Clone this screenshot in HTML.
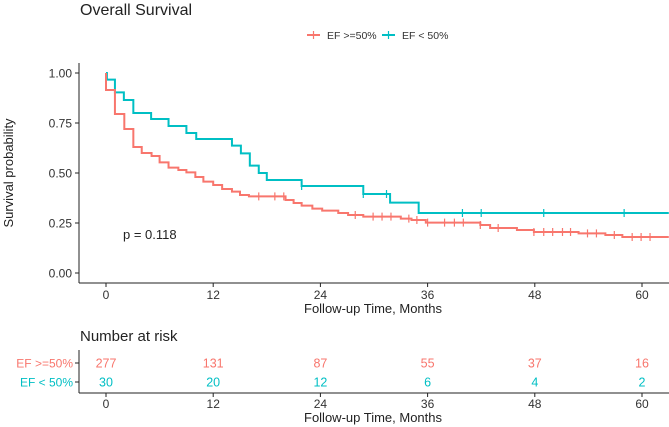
<!DOCTYPE html>
<html><head><meta charset="utf-8"><style>
body{margin:0;background:#fff;}
svg{display:block;font-family:"Liberation Sans",sans-serif;}
</style></head><body>
<svg id="c" width="669" height="427"></svg>
<script>
const groups=["EF >=50%","EF < 50%"];
const redTimes=[0,1.0,2.05,3.06,4.0,5.1,6.0,7.0,8.1,9.0,10.0,10.9,12.0,13.0,14.1,15.0,16.0,20.1,21.0,21.9,23.1,24.2,26,27.1,28.8,33,34.2,35.8,41.9,43,46,47.9,52.9,55.9,57.8];
const redSurv=[0.915,0.795,0.72,0.63,0.60,0.585,0.553,0.527,0.515,0.503,0.48,0.457,0.44,0.42,0.407,0.39,0.383,0.365,0.35,0.337,0.322,0.312,0.30,0.29,0.282,0.272,0.265,0.252,0.24,0.225,0.215,0.205,0.198,0.19,0.18];
const redCensor=[17.1,18.9,19.9,27.9,29.9,30.9,31.9,33.9,34.8,36.0,37.9,39.0,40.0,41.9,43.9,47.9,49.0,50.0,51.1,52.0,53.9,54.9,56.9,58.9,59.9,60.9];
const tealTimes=[0.1,1.0,2.0,3.06,5.05,7.0,9.0,10.1,14.1,15.1,16.1,17.1,18.0,21.9,28.8,31.8,35.0];
const tealSurv=[0.967,0.903,0.865,0.80,0.77,0.735,0.70,0.67,0.637,0.598,0.537,0.50,0.465,0.435,0.395,0.352,0.30];
const tealCensor=[21.9,28.8,31.4,39.9,42.0,49.0,58.0];
const xTicks=[0,12,24,36,48,60];
const yTicks=[0,0.25,0.5,0.75,1.0];
const riskRed=[277,131,87,55,37,16];
const riskTeal=[30,20,12,6,4,2];
const pText="p = 0.118";
const RED="#F8766D",TEAL="#00BFC4";
const NS="http://www.w3.org/2000/svg";
const svg=document.getElementById('c');
const X=t=>106+t*(642-106)/60;
const Y=v=>273-v*200;
const tMax=63;
function el(tag,attrs,parent){const e=document.createElementNS(NS,tag);for(const k in attrs)e.setAttribute(k,attrs[k]);(parent||svg).appendChild(e);return e;}
function txt(s,attrs){const e=el('text',attrs);e.textContent=s;return e;}
let t;
t=txt("Overall Survival",{x:80,y:15,'font-size':16,fill:'#222'});


const lg=el('g',{});


[[groups[0],RED,307],[groups[1],TEAL,382]].forEach(([n,c,x])=>{
 const g=el('g',{},lg);
 
 
 el('line',{x1:x,y1:35,x2:x+13,y2:35,stroke:c,'stroke-width':2},g);
 el('line',{x1:x+6.5,y1:31,x2:x+6.5,y2:39,stroke:c,'stroke-width':1.2},g);
 const tt=el('text',{x:x+20,y:39,'font-size':10.5,fill:'#333'},g);tt.textContent=n;
});
let a=el('line',{x1:79,y1:63,x2:79,y2:283,stroke:'#222','stroke-width':1});


a=el('line',{x1:79,y1:283,x2:669,y2:283,stroke:'#222','stroke-width':1});


yTicks.forEach(v=>{
 el('line',{x1:75,y1:Y(v),x2:79,y2:Y(v),stroke:'#222'});
 const e=txt(v.toFixed(2),{x:72,y:Y(v)+4.5,'font-size':12,'text-anchor':'end',fill:'#333'});
 
 
});
xTicks.forEach(v=>{
 el('line',{x1:X(v),y1:283,x2:X(v),y2:287,stroke:'#222'});
 const e=txt(String(v),{x:X(v),y:299,'font-size':12,'text-anchor':'middle',fill:'#333'});
 
 
});
t=txt("Follow-up Time, Months",{x:373,y:313,'font-size':13,'text-anchor':'middle',fill:'#222'});


t=txt("Survival probability",{x:0,y:0,'font-size':13,'text-anchor':'middle',fill:'#222',transform:'translate(13,173) rotate(-90)'});


t=txt(pText,{x:123,y:239,'font-size':13,fill:'#222'});


function survAt(times,surv,tt){let s=1;for(let i=0;i<times.length;i++){if(times[i]<=tt)s=surv[i];}return s;}
function curve(times,surv,cens,color,name){
 let d='M'+X(0)+','+Y(1);
 for(let i=0;i<times.length;i++){d+=' H'+X(times[i])+' V'+Y(surv[i]);}
 d+=' H'+X(tMax);
 const p=el('path',{d:d,fill:'none',stroke:color,'stroke-width':2});
 
 
 cens.forEach(c=>{
  const y=Y(survAt(times,surv,c));
  const m=el('line',{x1:X(c),y1:y-4,x2:X(c),y2:y+4,stroke:color,'stroke-width':1.2});
  
  
 });
}
curve(tealTimes,tealSurv,tealCensor,TEAL,'curve-ef-below-50');
curve(redTimes,redSurv,redCensor,RED,'curve-ef-50-plus');
t=txt("Number at risk",{x:80,y:341,'font-size':15,fill:'#222'});


el('line',{x1:79,y1:350,x2:79,y2:393,stroke:'#222'});
el('line',{x1:79,y1:393,x2:669,y2:393,stroke:'#222'});
[[groups[0],RED,363,riskRed],[groups[1],TEAL,382,riskTeal]].forEach(([n,c,y,vals])=>{
 el('line',{x1:75,y1:y,x2:79,y2:y,stroke:'#222'});
 const l=txt(n,{x:73,y:y+4.5,'font-size':12,'text-anchor':'end',fill:c});
 
 
 vals.forEach((v,i)=>{
  const e=txt(String(v),{x:X(xTicks[i]),y:y+4.5,'font-size':12.5,'text-anchor':'middle',fill:c});
  
  
 });
});
xTicks.forEach(v=>{
 el('line',{x1:X(v),y1:393,x2:X(v),y2:397,stroke:'#222'});
 const e=txt(String(v),{x:X(v),y:408,'font-size':12,'text-anchor':'middle',fill:'#333'});
 
 
});
t=txt("Follow-up Time, Months",{x:373,y:422,'font-size':13,'text-anchor':'middle',fill:'#222'});


</script>
</body></html>
